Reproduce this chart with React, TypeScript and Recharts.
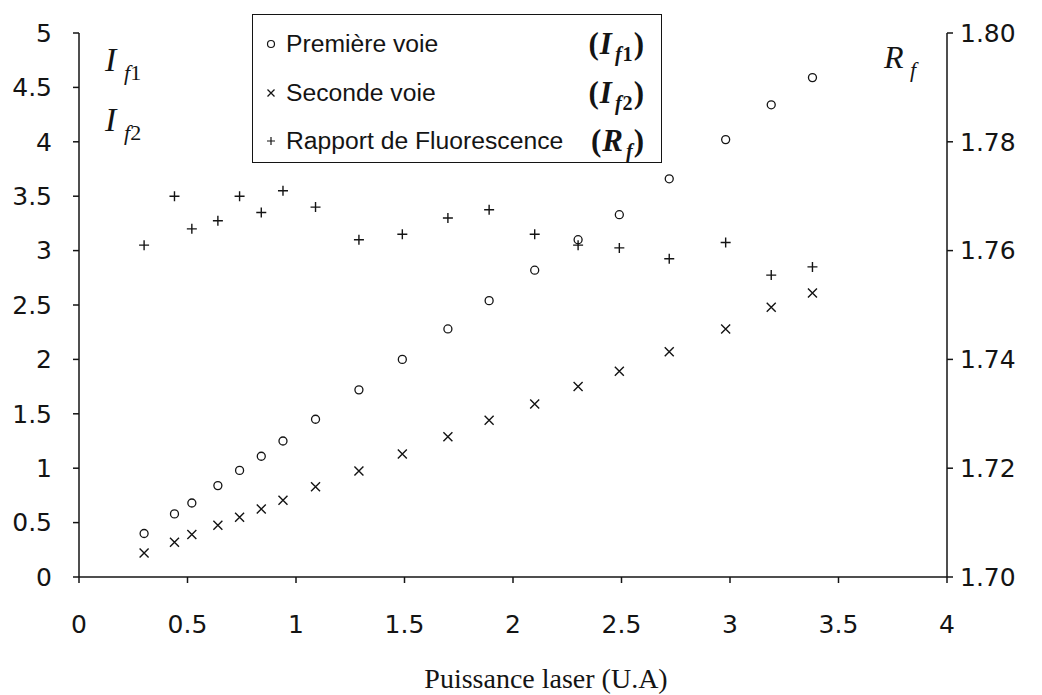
import { Legend, Scatter, ScatterChart, XAxis, YAxis } from 'recharts'

// laser power (U.A) and the three measured series
const power = [0.3, 0.44, 0.52, 0.64, 0.74, 0.84, 0.94, 1.09, 1.29, 1.49, 1.7, 1.89, 2.1, 2.3, 2.49, 2.72, 2.98, 3.19, 3.38]
const firstChannel = [0.4, 0.58, 0.68, 0.84, 0.98, 1.11, 1.25, 1.45, 1.72, 2.0, 2.28, 2.54, 2.82, 3.1, 3.33, 3.66, 4.02, 4.34, 4.59]
const secondChannel = [0.22, 0.32, 0.39, 0.475, 0.55, 0.625, 0.705, 0.83, 0.975, 1.13, 1.29, 1.44, 1.59, 1.75, 1.89, 2.07, 2.28, 2.48, 2.61]
const ratio = [1.761, 1.77, 1.764, 1.7655, 1.77, 1.767, 1.771, 1.768, 1.762, 1.763, 1.766, 1.7675, 1.763, 1.761, 1.7605, 1.7585, 1.7615, 1.7555, 1.757]

const xTicks = [0, 0.5, 1, 1.5, 2, 2.5, 3, 3.5, 4]
const leftTicks = [0, 0.5, 1, 1.5, 2, 2.5, 3, 3.5, 4, 4.5, 5]
const rightTicks = [1.7, 1.72, 1.74, 1.76, 1.78, 1.8]

const toPoints = (ys: number[]) => power.map((x, i) => ({ x, y: ys[i] }))

const ink = '#141414'
const tickStyle = { fill: ink, fontSize: 25, fontFamily: 'DejaVu Sans' }
const serif = '"Liberation Serif", "Times New Roman", serif'

const Circle = (p: any) => <circle cx={p.cx} cy={p.cy} r={4} fill="none" stroke={ink} strokeWidth={1.3} />
const Cross = (p: any) => (
  <path d={`M${p.cx - 4.5},${p.cy - 4.5}L${p.cx + 4.5},${p.cy + 4.5}M${p.cx - 4.5},${p.cy + 4.5}L${p.cx + 4.5},${p.cy - 4.5}`} stroke={ink} strokeWidth={1.4} />
)
const Plus = (p: any) => (
  <path d={`M${p.cx - 5},${p.cy}L${p.cx + 5},${p.cy}M${p.cx},${p.cy - 5}L${p.cx},${p.cy + 5}`} stroke={ink} strokeWidth={1.4} />
)

const Sub = ({ children }: { children: any }) => (
  <span style={{ fontSize: '0.65em', position: 'relative', top: '0.35em', marginLeft: 2 }}>{children}</span>
)

const legendRows = [
  { symbol: 'circle', name: 'Première voie', main: 'I', sub: 'f1' },
  { symbol: 'cross', name: 'Seconde voie', main: 'I', sub: 'f2' },
  { symbol: 'plus', name: 'Rapport de Fluorescence', main: 'R', sub: 'f' },
]

function LegendBox() {
  return (
    <div style={{ position: 'relative', width: 410, height: 149, border: `1.5px solid ${ink}`, boxSizing: 'border-box', background: '#fff' }}>
      {legendRows.map((row, i) => (
        <div key={row.name} style={{ position: 'absolute', left: 0, right: 0, top: 29 + i * 48.5 - 16, height: 32, display: 'flex', alignItems: 'center' }}>
          <svg width={30} height={32} style={{ marginLeft: 3 }}>
            {row.symbol === 'circle' && <circle cx={15} cy={16} r={3.5} fill="none" stroke={ink} strokeWidth={1.2} />}
            {row.symbol === 'cross' && <path d="M11.5,12.5L18.5,19.5M11.5,19.5L18.5,12.5" stroke={ink} strokeWidth={1.3} />}
            {row.symbol === 'plus' && <path d="M11,16L19,16M15,12L15,20" stroke={ink} strokeWidth={1.2} />}
          </svg>
          <span style={{ fontFamily: '"Liberation Sans", Arial, sans-serif', fontSize: 24.7, color: ink }}>{row.name}</span>
          <span style={{ position: 'absolute', right: 16, fontFamily: serif, fontSize: 31, fontWeight: 'bold', color: ink, letterSpacing: 1 }}>
            (<i>{row.main}</i>
            <Sub>
              <i>{row.sub[0]}</i>
              {row.sub.slice(1)}
            </Sub>)
          </span>
        </div>
      ))}
    </div>
  )
}

export default function App() {
  return (
    <div style={{ position: 'absolute', left: 0, top: 0, width: 1042, height: 695, background: '#fff' }}>
      <ScatterChart width={1042} height={695} margin={{ top: 33, right: 0, bottom: 58, left: 0 }}>
        <XAxis type="number" dataKey="x" domain={[0, 4]} ticks={xTicks} height={60} tick={tickStyle} tickSize={6} tickMargin={32} stroke={ink} strokeWidth={1.5} allowDataOverflow />
        <YAxis yAxisId="left" type="number" dataKey="y" domain={[0, 5]} ticks={leftTicks} width={79} tick={tickStyle} tickSize={6} tickMargin={21} stroke={ink} strokeWidth={1.5} />
        <YAxis yAxisId="right" orientation="right" type="number" dataKey="y" domain={[1.7, 1.8]} ticks={rightTicks} width={95} tick={{ ...tickStyle, textAnchor: 'start' }} tickSize={6} tickMargin={7} tickFormatter={(v: number) => v.toFixed(2)} stroke={ink} strokeWidth={1.5} />
        <Legend layout="vertical" align="center" verticalAlign="middle" content={() => <LegendBox />} wrapperStyle={{ left: 252, top: 14, width: 410, height: 149 }} />
        <Scatter name="Première voie" yAxisId="left" data={toPoints(firstChannel)} shape={Circle} isAnimationActive={false} />
        <Scatter name="Seconde voie" yAxisId="left" data={toPoints(secondChannel)} shape={Cross} isAnimationActive={false} />
        <Scatter name="Rapport de Fluorescence" yAxisId="right" data={toPoints(ratio)} shape={Plus} isAnimationActive={false} />
      </ScatterChart>
      <svg width={1042} height={695} style={{ position: 'absolute', left: 0, top: 0, pointerEvents: 'none' }} fontFamily={serif} fill={ink}>
        <text x={105} y={71} fontSize={34} fontStyle="italic">I</text>
        <text x={124} y={80} fontSize={22}><tspan fontStyle="italic">f</tspan>1</text>
        <text x={105} y={131} fontSize={34} fontStyle="italic">I</text>
        <text x={124} y={140} fontSize={22}><tspan fontStyle="italic">f</tspan>2</text>
        <text x={884} y={68} fontSize={32} fontStyle="italic">R</text>
        <text x={910} y={77} fontSize={22} fontStyle="italic">f</text>
        <text x={546} y={688} fontSize={28} textAnchor="middle">Puissance laser  (U.A)</text>
      </svg>
    </div>
  )
}
